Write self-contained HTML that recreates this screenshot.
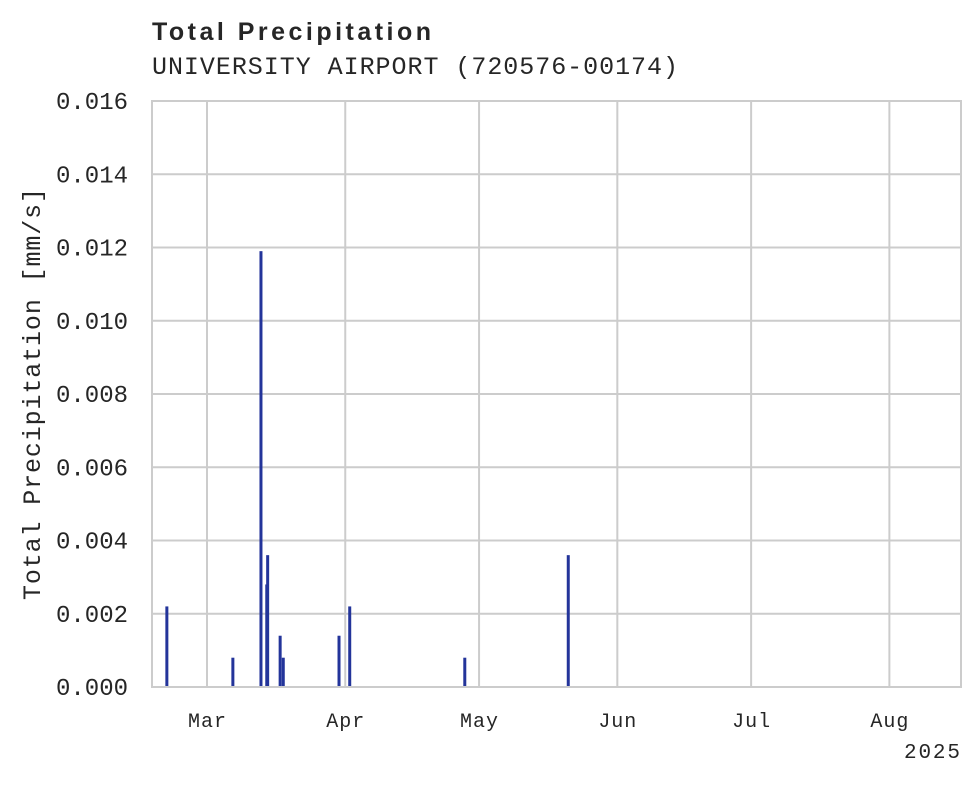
<!DOCTYPE html>
<html><head><meta charset="utf-8"><style>
html,body{margin:0;padding:0;background:#fff;}
svg text{font-family:"Liberation Mono","DejaVu Sans Mono",monospace;fill:#262626;}
svg text.sans{font-family:"Liberation Sans",sans-serif;}
</style></head><body>
<svg id="chart" width="980" height="783" xmlns="http://www.w3.org/2000/svg">
<text class="sans" x="152" y="40" font-weight="bold" font-size="25" textLength="279">Total Precipitation</text>
<text x="152" y="74" font-size="25" textLength="526">UNIVERSITY AIRPORT (720576-00174)</text>
<g id="grid"></g>
<g id="bars"></g>
<rect x="152" y="101" width="809" height="586" fill="none" stroke="#cccccc" stroke-width="2"/>
<g id="yticks"></g>
<g id="xticks"></g>
<text x="960" y="758" font-size="21" text-anchor="end" textLength="56">2025</text>
<text transform="translate(40,394) rotate(-90)" font-size="25" text-anchor="middle" textLength="412">Total Precipitation [mm/s]</text>
</svg>
<script>
const yTicks=[0,0.002,0.004,0.006,0.008,0.010,0.012,0.014,0.016];
const yTickLabels=["0.000","0.002","0.004","0.006","0.008","0.010","0.012","0.014","0.016"];
const xTickDays=[0,31,61,92,122,153];
const xTickLabels=["Mar","Apr","May","Jun","Jul","Aug"];
// days since Mar 1, 2025
const eventDays=[-9.0,5.8,12.1,13.4,13.6,16.4,17.1,29.6,32.0,57.8,81.0];
const eventValues=[0.0022,0.0008,0.0119,0.0028,0.0036,0.0014,0.0008,0.0014,0.0022,0.0008,0.0036];

const L=152,R=961,T=101,B=687;
const x=d=>207+d*4.46;
const y=v=>B-(v/0.016)*(B-T);
const NS="http://www.w3.org/2000/svg";
const grid=document.getElementById('grid'),bars=document.getElementById('bars');
const yt=document.getElementById('yticks'),xt=document.getElementById('xticks');
yTicks.forEach((v,i)=>{
  const l=document.createElementNS(NS,'line');
  
  
  l.setAttribute('x1',L);l.setAttribute('x2',R);l.setAttribute('y1',y(v));l.setAttribute('y2',y(v));
  l.setAttribute('stroke','#cccccc');l.setAttribute('stroke-width','2');
  grid.appendChild(l);
  const t=document.createElementNS(NS,'text');
  
  
  t.setAttribute('x',128);t.setAttribute('y',y(v)+8);t.setAttribute('text-anchor','end');
  t.setAttribute('font-size','24');t.setAttribute('textLength','72');
  t.textContent=yTickLabels[i];yt.appendChild(t);
});
xTickDays.forEach((d,i)=>{
  const l=document.createElementNS(NS,'line');
  
  
  l.setAttribute('x1',x(d));l.setAttribute('x2',x(d));l.setAttribute('y1',T);l.setAttribute('y2',B);
  l.setAttribute('stroke','#cccccc');l.setAttribute('stroke-width','2');
  grid.appendChild(l);
  const t=document.createElementNS(NS,'text');
  
  
  t.setAttribute('x',x(d));t.setAttribute('y',727);t.setAttribute('text-anchor','middle');
  t.setAttribute('font-size','20');t.setAttribute('textLength','38');
  t.textContent=xTickLabels[i];xt.appendChild(t);
});
eventDays.forEach((d,i)=>{
  const r=document.createElementNS(NS,'rect');
  
  
  r.setAttribute('x',x(d)-1.5);r.setAttribute('width',3);
  r.setAttribute('y',y(eventValues[i]));r.setAttribute('height',B-y(eventValues[i]));
  r.setAttribute('fill','#23349a');
  bars.appendChild(r);
});
</script>
</body></html>
